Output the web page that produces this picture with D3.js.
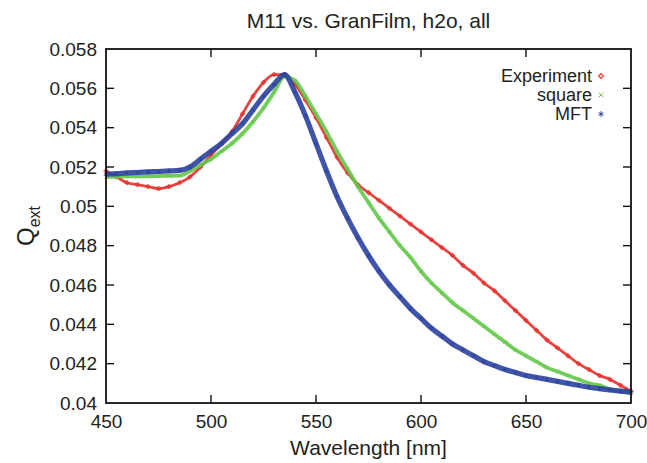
<!DOCTYPE html>
<html>
<head>
<meta charset="utf-8">
<script src="https://cdn.jsdelivr.net/npm/d3@7"></script>
<style>
  body { margin: 0; background: #fff; }
  svg { font-family: "Liberation Sans", Arial, sans-serif; }
</style>
</head>
<body>
<svg id="chart" width="647" height="463"></svg>
<script>
// wavelength grid of the read-off values (nm)
const wavelengths = [450,455,460,465,470,475,480,485,490,495,500,505,510,515,520,525,530,535,540,545,550,555,560,565,570,575,580,585,590,595,600,605,610,615,620,625,630,635,640,645,650,655,660,665,670,675,680,685,690,695,700]

const experiment = [0.0518,0.0515,0.0512,0.0511,0.0510,0.0509,0.0510,0.0512,0.0515,0.0520,0.0526,0.0532,0.0538,0.0547,0.0556,0.0563,0.0567,0.0567,0.0562,0.0554,0.0545,0.0535,0.0525,0.0517,0.0511,0.0507,0.0503,0.0499,0.0495,0.0491,0.0487,0.0483,0.0479,0.0475,0.0470,0.0466,0.0461,0.0457,0.0452,0.0447,0.0442,0.0437,0.0432,0.0428,0.0424,0.0420,0.0417,0.0414,0.0412,0.0409,0.0406]

const square = [0.0515,0.05151,0.05152,0.05152,0.05153,0.05154,0.05155,0.05156,0.0518,0.0521,0.0524,0.0528,0.0532,0.0537,0.0543,0.0550,0.0558,0.0566,0.0564,0.0556,0.0547,0.0538,0.0528,0.0519,0.0510,0.0502,0.0494,0.0487,0.0480,0.0474,0.0467,0.0461,0.0456,0.0451,0.0447,0.0443,0.0439,0.0435,0.0431,0.0427,0.0424,0.0421,0.0418,0.0416,0.0414,0.0412,0.0410,0.0409,0.0407,0.0406,0.0405]

const mft = [0.05163,0.05166,0.0517,0.05172,0.05175,0.05177,0.0518,0.05183,0.0520,0.0524,0.0528,0.0532,0.0537,0.0542,0.0549,0.0556,0.0562,0.0567,0.0558,0.0546,0.0532,0.0518,0.0505,0.0494,0.0484,0.0475,0.0467,0.0460,0.0454,0.0448,0.0443,0.0438,0.0434,0.0430,0.0427,0.0424,0.0421,0.0419,0.0417,0.04155,0.0414,0.0413,0.0412,0.0411,0.0410,0.0409,0.0408,0.04073,0.04066,0.0406,0.04055]

const xTicks = [450, 500, 550, 600, 650, 700]
const yTicks = [0.04, 0.042, 0.044, 0.046, 0.048, 0.05, 0.052, 0.054, 0.056, 0.058]
const yTickLabels = ["0.04","0.042","0.044","0.046","0.048","0.05","0.052","0.054","0.056","0.058"]

const seriesNames = ["Experiment", "square", "MFT"]
const seriesColors = ["#e62f2a", "#64c84a", "#2c429e"]

const dimensions = {
  width: 647,
  height: 463,
  margin: { top: 49, right: 16, bottom: 60, left: 106 },
}

const svg = d3.select("#chart")

const xScale = d3.scaleLinear()
  .domain([450, 700])
  .range([dimensions.margin.left, dimensions.width - dimensions.margin.right])

const yScale = d3.scaleLinear()
  .domain([0.04, 0.058])
  .range([dimensions.height - dimensions.margin.bottom, dimensions.margin.top])

const plotW = xScale(700) - xScale(450)
const plotH = yScale(0.04) - yScale(0.058)

// series first, frame drawn on top
const series = [experiment, square, mft]
const bandWidths = [2.8, 3.8, 5.2]
const markerSym = [d3.symbolCross, d3.symbolTimes, d3.symbolAsterisk]
const markerSize = [9, 11, 18]

svg.append("clipPath").attr("id", "plotclip")
  .append("rect")
  .attr("x", xScale(450) - 3).attr("y", yScale(0.058) - 3)
  .attr("width", plotW + 6).attr("height", plotH + 6)

const plot = svg.append("g").attr("clip-path", "url(#plotclip)")

series.forEach(function(vals, k) {
  const pts = wavelengths.map((w, i) => [w, vals[i]])
  const line = d3.line()
    .x(d => xScale(d[0]))
    .y(d => yScale(d[1]))
    .curve(d3.curveMonotoneX)

  plot.append("path")
    .datum(pts)
    .attr("d", line)
    .attr("fill", "none")
    .attr("stroke", seriesColors[k])
    .attr("stroke-width", bandWidths[k])
    .attr("stroke-opacity", 0.9)

  plot.append("g")
    .selectAll("path")
    .data(pts)
    .enter()
    .append("path")
    .attr("transform", d => `translate(${xScale(d[0])},${yScale(d[1])})`)
    .attr("d", d3.symbol().type(markerSym[k]).size(markerSize[k]))
    .attr("fill", "none")
    .attr("stroke", seriesColors[k])
    .attr("stroke-width", 0.8)
})

// frame
svg.append("rect")
  .attr("x", xScale(450)).attr("y", yScale(0.058))
  .attr("width", plotW).attr("height", plotH)
  .attr("fill", "none")
  .attr("stroke", "#111")
  .attr("stroke-width", 1.8)

// inward ticks, mirrored (gnuplot style)
const tickLen = 8
const xAxis = d3.axisBottom(xScale).tickValues(xTicks).tickSize(0).tickPadding(12).tickFormat(d3.format("d"))
const xAxisGroup = svg.append("g")
  .attr("transform", `translate(0,${yScale(0.04)})`)
  .call(xAxis)
xAxisGroup.select(".domain").remove()
xAxisGroup.selectAll("text")
  .attr("font-size", "19px")
  .attr("fill", "#222")
  .attr("font-family", "Liberation Sans, Arial, sans-serif")

const yAxis = d3.axisLeft(yScale).tickValues(yTicks).tickSize(0).tickPadding(9)
  .tickFormat((d, i) => yTickLabels[i])
const yAxisGroup = svg.append("g")
  .attr("transform", `translate(${xScale(450)},0)`)
  .call(yAxis)
yAxisGroup.select(".domain").remove()
yAxisGroup.selectAll("text")
  .attr("font-size", "19px")
  .attr("fill", "#222")
  .attr("font-family", "Liberation Sans, Arial, sans-serif")

const ticks = svg.append("g").attr("stroke", "#111").attr("stroke-width", 1.4)
xTicks.slice(1, -1).forEach(function(t) {
  ticks.append("line").attr("x1", xScale(t)).attr("x2", xScale(t))
    .attr("y1", yScale(0.04)).attr("y2", yScale(0.04) - tickLen)
  ticks.append("line").attr("x1", xScale(t)).attr("x2", xScale(t))
    .attr("y1", yScale(0.058)).attr("y2", yScale(0.058) + tickLen)
})
yTicks.slice(1, -1).forEach(function(t) {
  ticks.append("line").attr("x1", xScale(450)).attr("x2", xScale(450) + tickLen)
    .attr("y1", yScale(t)).attr("y2", yScale(t))
  ticks.append("line").attr("x1", xScale(700)).attr("x2", xScale(700) - tickLen)
    .attr("y1", yScale(t)).attr("y2", yScale(t))
})

// title
svg.append("text")
  .text("M11 vs. GranFilm, h2o, all")
  .attr("x", (xScale(450) + xScale(700)) / 2)
  .attr("y", 28)
  .attr("text-anchor", "middle")
  .attr("font-size", "21px")
  .attr("fill", "#222")

// x label
svg.append("text")
  .text("Wavelength [nm]")
  .attr("x", (xScale(450) + xScale(700)) / 2)
  .attr("y", 455)
  .attr("text-anchor", "middle")
  .attr("font-size", "21px")
  .attr("fill", "#222")

// y label with subscript
const ylab = svg.append("text")
  .attr("transform", `translate(34,${(yScale(0.04) + yScale(0.058)) / 2}) rotate(-90)`)
  .attr("text-anchor", "middle")
  .attr("font-size", "24px")
  .attr("fill", "#222")
ylab.append("tspan").text("Q")
ylab.append("tspan").text("ext").attr("font-size", "16px").attr("dy", 6)

// legend
const legend = svg.append("g")
seriesNames.forEach(function(name, k) {
  const ly = 76 + k * 19
  legend.append("text")
    .text(name)
    .attr("x", 592)
    .attr("y", ly)
    .attr("dy", "0.35em")
    .attr("text-anchor", "end")
    .attr("font-size", "18px")
    .attr("fill", "#222")
  legend.append("path")
    .attr("transform", `translate(601,${ly})`)
    .attr("d", d3.symbol().type(markerSym[k]).size(markerSize[k] + 4))
    .attr("fill", "none")
    .attr("stroke", seriesColors[k])
    .attr("stroke-width", 1)
})
</script>
</body>
</html>
